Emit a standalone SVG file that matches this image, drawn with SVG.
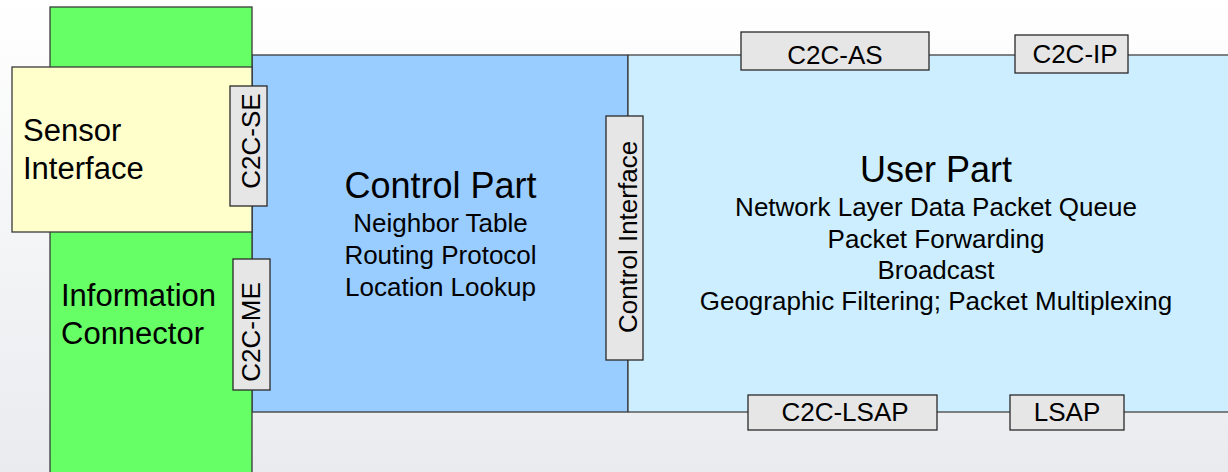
<svg xmlns="http://www.w3.org/2000/svg" width="1228" height="472" viewBox="0 0 1228 472">
<defs>
<linearGradient id="bg" x1="0" y1="0" x2="0" y2="1">
<stop offset="0" stop-color="#ffffff"/>
<stop offset="1" stop-color="#e9ebee"/>
</linearGradient>
<style>
.part{stroke:#3a3a3a;stroke-width:1.3}
.lbl{fill:#e6e6e6;stroke:#2a2a2a;stroke-width:1.3}
text{font-family:"Liberation Sans",Arial,sans-serif;fill:#000}
.t26{font-size:26px}
.t31{font-size:31px}
.t36{font-size:36px}
.mid{text-anchor:middle}
</style>
</defs>
<rect x="0" y="0" width="1228" height="472" fill="url(#bg)"/>

<g id="control-part">
<rect class="part" x="252" y="55" width="376" height="357" fill="#99ccff"/>
<text class="t36 mid" x="440.5" y="198">Control Part</text>
<text class="t26 mid" x="440.5" y="232">Neighbor Table</text>
<text class="t26 mid" x="440.5" y="264">Routing Protocol</text>
<text class="t26 mid" x="440.5" y="296">Location Lookup</text>
</g>

<g id="user-part">
<rect x="628" y="55" width="620" height="357" fill="#cceeff"/>
<line x1="628" y1="55" x2="1228" y2="55" stroke="#5a5a5a" stroke-width="1.6"/>
<line x1="628" y1="412" x2="1228" y2="412" stroke="#5a5a5a" stroke-width="1.6"/>
<line x1="628" y1="55" x2="628" y2="412" stroke="#3a3a3a" stroke-width="1.3"/>
<text class="t36 mid" x="936" y="182">User Part</text>
<text class="t26 mid" x="936" y="216">Network Layer Data Packet Queue</text>
<text class="t26 mid" x="936" y="248">Packet Forwarding</text>
<text class="t26 mid" x="936" y="279">Broadcast</text>
<text class="t26 mid" x="936" y="310">Geographic Filtering; Packet Multiplexing</text>
</g>

<g id="information-connector">
<rect class="part" x="50" y="7" width="202" height="480" fill="#66ff66"/>
<text class="t31" x="61" y="306">Information</text>
<text class="t31" x="61" y="344">Connector</text>
</g>

<g id="sensor-interface">
<rect class="part" x="12" y="67" width="240" height="165" fill="#ffffcc"/>
<text class="t31" x="23" y="141">Sensor</text>
<text class="t31" x="23" y="179">Interface</text>
</g>

<g id="c2c-se">
<rect class="lbl" x="230" y="86" width="37" height="120"/>
<text class="t26 mid" transform="translate(250,141) rotate(-90)" y="9.5">C2C-SE</text>
</g>

<g id="c2c-me">
<rect class="lbl" x="233" y="259" width="37" height="131"/>
<text class="t26 mid" transform="translate(250,332) rotate(-90)" y="9.5">C2C-ME</text>
</g>

<g id="control-interface">
<rect class="lbl" x="606" y="116" width="37" height="244"/>
<text class="t26 mid" transform="translate(627,237) rotate(-90)" y="9.5">Control Interface</text>
</g>

<g id="c2c-as">
<rect class="lbl" x="741" y="32" width="188" height="38"/>
<text class="t26 mid" x="835" y="64">C2C-AS</text>
</g>

<g id="c2c-ip">
<rect class="lbl" x="1015" y="35" width="113" height="38"/>
<text class="t26 mid" x="1075" y="63">C2C-IP</text>
</g>

<g id="c2c-lsap">
<rect class="lbl" x="748" y="395" width="189" height="35"/>
<text class="t26 mid" x="845" y="421">C2C-LSAP</text>
</g>

<g id="lsap">
<rect class="lbl" x="1010" y="395" width="114" height="35"/>
<text class="t26 mid" x="1067" y="421">LSAP</text>
</g>
</svg>
